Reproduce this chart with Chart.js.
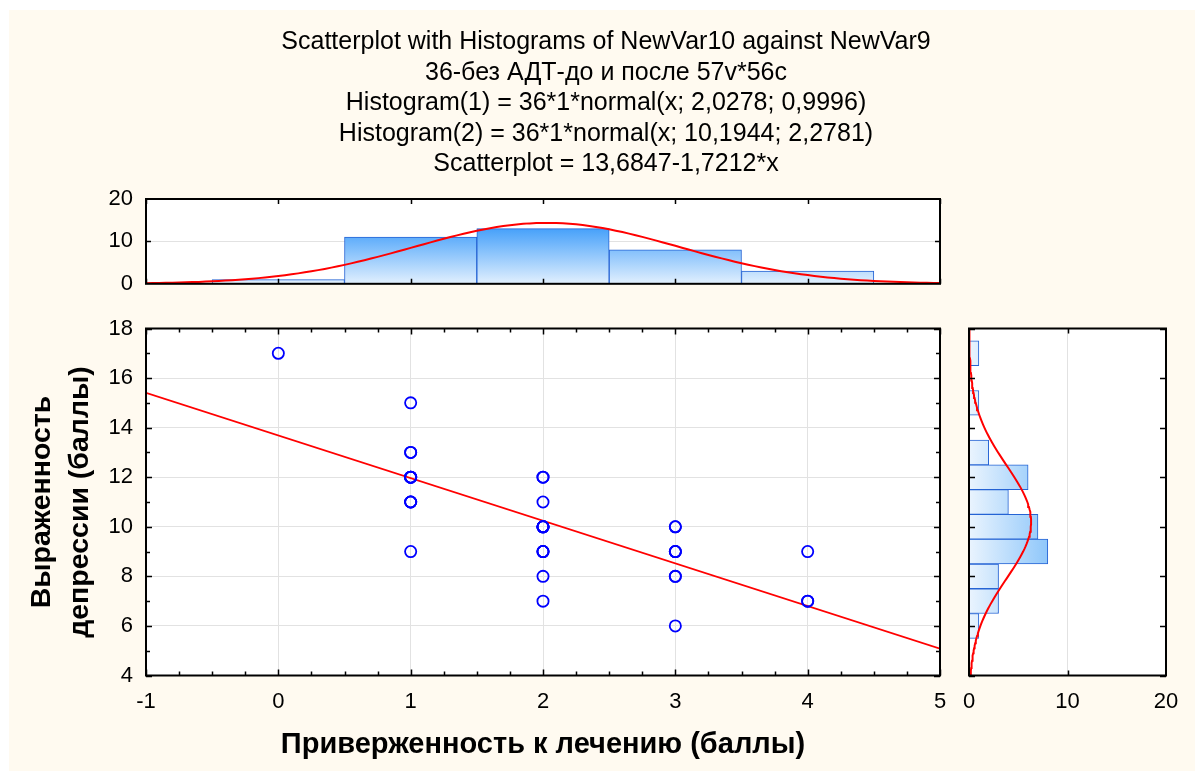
<!DOCTYPE html>
<html>
<head>
<meta charset="utf-8">
<script src="https://cdn.jsdelivr.net/npm/chart.js@4.4.1/dist/chart.umd.min.js"></script>
<style>
  html, body { margin: 0; padding: 0; background: #ffffff; width: 1195px; height: 771px; overflow: hidden; }
  #panel { position: absolute; left: 9px; top: 10px; width: 1186px; height: 761px; background: #fffaf0; }
  canvas { position: absolute; }
  #topHist { left: 0; top: 0; }
  #scatter { left: 0; top: 300px; }
  #sideHist { left: 949px; top: 300px; }
</style>
</head>
<body>
<div id="panel"></div>
<canvas id="topHist" width="1195" height="310"></canvas>
<canvas id="scatter" width="960" height="471"></canvas>
<canvas id="sideHist" width="246" height="471"></canvas>
<script>
// ---- Data -------------------------------------------------------------
// Adherence to treatment (x) and depression score (y) for 36 patients
const ADHERENCE = [
  0,
  1, 1, 1, 1, 1, 1, 1, 1, 1, 1, 1,
  2, 2, 2, 2, 2, 2, 2, 2, 2, 2, 2, 2, 2,
  3, 3, 3, 3, 3, 3, 3, 3,
  4, 4, 4
];
const DEPRESSION = [
  17,
  15, 13, 13, 12, 12, 12, 12, 11, 11, 11, 9,
  12, 12, 11, 10, 10, 10, 10, 10, 9, 9, 9, 8, 7,
  10, 10, 9, 9, 9, 8, 8, 6,
  9, 7, 7
];

// Histogram of adherence (bins of width 1)
const ADH_BINS = [0, 1, 2, 3, 4];
const ADH_COUNTS = [1, 11, 13, 8, 3];

// Histogram of depression score (bins of width 1, empty bins left out)
const DEP_BINS = [6, 7, 8, 9, 10, 11, 12, 13, 15, 17];
const DEP_COUNTS = [1, 3, 3, 8, 7, 4, 6, 2, 1, 1];

// Fitted normal curves and regression line
const N_CASES = 36;
const BIN_WIDTH = 1;
const ADH_MEAN = 2.0278, ADH_SD = 0.9996;
const DEP_MEAN = 10.1944, DEP_SD = 2.2781;
const REG_INTERCEPT = 13.6847, REG_SLOPE = -1.7212;

// Axis ranges and tick labels
const X_RANGE = [-1, 5];
const Y_RANGE = [4, 18];
const COUNT_TICKS = [0, 10, 20];

const TITLE_LINES = [
  'Scatterplot with Histograms of NewVar10 against NewVar9',
  '36-без АДТ-до и после 57v*56c',
  'Histogram(1) = 36*1*normal(x; 2,0278; 0,9996)',
  'Histogram(2) = 36*1*normal(x; 10,1944; 2,2781)',
  'Scatterplot = 13,6847-1,7212*x'
];
const X_TITLE = 'Приверженность к лечению (баллы)';
const Y_TITLE = ['Выраженность', 'депрессии (баллы)'];

// ---- Helpers -----------------------------------------------------------
const FONT = "'Liberation Sans', Arial, Helvetica, sans-serif";
Chart.defaults.font.family = FONT;
Chart.defaults.color = '#000000';

function normalCurve(mean, sd, from, to, step) {
  const pts = [];
  const k = N_CASES * BIN_WIDTH / (sd * Math.sqrt(2 * Math.PI));
  for (let v = from; v <= to + 1e-9; v += step) {
    pts.push({ v, f: k * Math.exp(-((v - mean) ** 2) / (2 * sd * sd)) });
  }
  return pts;
}

function range(from, to, step) {
  const out = [];
  for (let v = from; v <= to + 1e-9; v += step) out.push(Math.round(v * 1000) / 1000);
  return out;
}

// White plot area, black frame and inward tick marks
const framePlugin = {
  id: 'frame',
  beforeDraw(chart) {
    const { ctx, chartArea: a } = chart;
    ctx.save();
    ctx.fillStyle = '#ffffff';
    ctx.fillRect(a.left, a.top, a.right - a.left, a.bottom - a.top);
    ctx.restore();
  },
  afterDatasetsDraw(chart, args, opts) {
    const { ctx, chartArea: a, scales } = chart;
    ctx.save();
    ctx.strokeStyle = '#000000';
    ctx.lineWidth = 1.5;
    ctx.beginPath();
    for (const m of (opts.marks || [])) {
      const s = scales[m.axis];
      for (const v of m.values) {
        const p = Math.round(s.getPixelForValue(v)) + 0.5;
        if (m.axis === 'x') {
          ctx.moveTo(p, a.bottom); ctx.lineTo(p, a.bottom - m.len);
          ctx.moveTo(p, a.top); ctx.lineTo(p, a.top + m.len);
        } else {
          ctx.moveTo(a.left, p); ctx.lineTo(a.left + m.len, p);
          ctx.moveTo(a.right, p); ctx.lineTo(a.right - m.len, p);
        }
      }
    }
    ctx.stroke();
    ctx.lineWidth = 2;
    ctx.strokeRect(a.left, a.top, a.right - a.left, a.bottom - a.top);
    ctx.restore();
  }
};

const GRID = '#e2e2e2';
const BAR_EDGE = '#2563d4';
const RED = '#ff0000';
const tickFont = { family: FONT, size: 22 };

// ---- Top histogram (adherence) -----------------------------------------
const adhCurve = normalCurve(ADH_MEAN, ADH_SD, X_RANGE[0], X_RANGE[1], 0.05);

new Chart(document.getElementById('topHist'), {
  type: 'bar',
  data: {
    datasets: [
      {
        type: 'line',
        data: adhCurve.map(p => ({ x: p.v, y: p.f })),
        borderColor: RED, borderWidth: 2, pointRadius: 0, tension: 0
      },
      {
        type: 'bar',
        data: ADH_BINS.map((b, i) => ({ x: b, y: ADH_COUNTS[i] })),
        barPercentage: 1, categoryPercentage: 1,
        borderColor: BAR_EDGE, borderWidth: 1,
        backgroundColor(c) {
          const ch = c.chart;
          if (!ch.chartArea) return '#9ccbf8';
          const ys = ch.scales.y;
          const g = ch.ctx.createLinearGradient(0, ys.getPixelForValue(Math.max(...ADH_COUNTS)), 0, ys.getPixelForValue(0));
          g.addColorStop(0, '#47a1fa');
          g.addColorStop(1, '#e2f0fe');
          return g;
        }
      }
    ]
  },
  options: {
    responsive: false, animation: false, devicePixelRatio: 1,
    layout: { padding: { left: 17, right: 0, top: 27, bottom: 25 } },
    plugins: {
      legend: { display: false }, tooltip: { enabled: false },
      title: {
        display: true, text: TITLE_LINES, color: '#000000', align: 'center',
        font: { family: FONT, size: 25, weight: 'normal', lineHeight: '30.5px' },
        padding: { top: 0, bottom: 19.5 }
      },
      frame: {
        marks: [
          { axis: 'x', values: range(X_RANGE[0], X_RANGE[1], 1), len: 5 },
          { axis: 'y', values: [10], len: 5 }
        ]
      }
    },
    scales: {
      x: { type: 'linear', display: false, min: X_RANGE[0], max: X_RANGE[1], offset: false, grid: { offset: false } },
      y: {
        type: 'linear', min: COUNT_TICKS[0], max: COUNT_TICKS[COUNT_TICKS.length - 1],
        afterBuildTicks: s => { s.ticks = COUNT_TICKS.map(v => ({ value: v })); },
        ticks: { font: tickFont, padding: 13, color: '#000000' },
        grid: { color: GRID, drawTicks: false, lineWidth: 1 },
        border: { display: false },
        afterFit: s => { s.width = 129; }
      },
      yR: {
        type: 'linear', position: 'right', display: true,
        ticks: { display: false }, grid: { display: false }, border: { display: false },
        afterFit: s => { s.width = 255; }
      }
    }
  },
  plugins: [framePlugin]
});

// ---- Scatterplot with regression line -----------------------------------
new Chart(document.getElementById('scatter'), {
  type: 'scatter',
  data: {
    datasets: [
      {
        type: 'scatter',
        data: ADHERENCE.map((x, i) => ({ x, y: DEPRESSION[i] })),
        pointStyle: 'circle', pointRadius: 5.6, pointBorderWidth: 1.8,
        pointBorderColor: '#0000ff', pointBackgroundColor: 'rgba(0,0,0,0)'
      },
      {
        type: 'line',
        data: X_RANGE.map(x => ({ x, y: REG_INTERCEPT + REG_SLOPE * x })),
        borderColor: RED, borderWidth: 1.8, pointRadius: 0, tension: 0
      }
    ]
  },
  options: {
    responsive: false, animation: false, devicePixelRatio: 1,
    layout: { padding: { left: 0, right: 20, top: 28.5, bottom: 0 } },
    plugins: {
      legend: { display: false }, tooltip: { enabled: false },
      frame: {
        marks: [
          { axis: 'x', values: range(X_RANGE[0], X_RANGE[1], 0.25), len: 4 },
          { axis: 'x', values: range(X_RANGE[0], X_RANGE[1], 1), len: 6 },
          { axis: 'y', values: range(Y_RANGE[0], Y_RANGE[1], 1), len: 4 },
          { axis: 'y', values: range(Y_RANGE[0], Y_RANGE[1], 2), len: 6 }
        ]
      }
    },
    scales: {
      x: {
        type: 'linear', min: X_RANGE[0], max: X_RANGE[1], offset: false,
        ticks: { stepSize: 1, font: tickFont, padding: 13, color: '#000000' },
        grid: { color: GRID, drawTicks: false, offset: false },
        border: { display: false },
        title: {
          display: true, text: X_TITLE, color: '#000000',
          font: { family: FONT, size: 29, weight: 'bold' },
          padding: { top: 0, bottom: 8.5 }
        },
        afterFit: s => { s.height = 95.5; }
      },
      y: {
        type: 'linear', min: Y_RANGE[0], max: Y_RANGE[1],
        ticks: { stepSize: 2, font: tickFont, padding: 13, color: '#000000' },
        grid: { color: GRID, drawTicks: false },
        border: { display: false },
        title: {
          display: true, text: Y_TITLE, color: '#000000',
          font: { family: FONT, size: 28.5, weight: 'bold', lineHeight: '38px' },
          padding: { top: 23, bottom: 0 }
        },
        afterFit: s => { s.width = 146; }
      }
    }
  },
  plugins: [framePlugin]
});

// ---- Side histogram (depression score) ----------------------------------
const depCurve = normalCurve(DEP_MEAN, DEP_SD, Y_RANGE[0], Y_RANGE[1], 0.1);

new Chart(document.getElementById('sideHist'), {
  type: 'bar',
  data: {
    datasets: [
      {
        type: 'line', indexAxis: 'y',
        data: depCurve.map(p => ({ x: p.f, y: p.v })),
        borderColor: RED, borderWidth: 2, pointRadius: 0, tension: 0
      },
      {
        type: 'bar', indexAxis: 'y',
        data: DEP_BINS.map((b, i) => ({ x: DEP_COUNTS[i], y: b })),
        barPercentage: 1, categoryPercentage: 1,
        borderColor: BAR_EDGE, borderWidth: 1,
        backgroundColor(c) {
          const ch = c.chart;
          if (!ch.chartArea) return '#cfe6fc';
          const xs = ch.scales.x;
          const g = ch.ctx.createLinearGradient(xs.getPixelForValue(0), 0, xs.getPixelForValue(Math.max(...DEP_COUNTS)), 0);
          g.addColorStop(0, '#eaf4fe');
          g.addColorStop(1, '#8fc7fa');
          return g;
        }
      }
    ]
  },
  options: {
    responsive: false, animation: false, devicePixelRatio: 1,
    layout: { padding: { left: 20, right: 29, top: 28.5, bottom: 0 } },
    plugins: {
      legend: { display: false }, tooltip: { enabled: false },
      frame: {
        marks: [
          { axis: 'x', values: [10], len: 5 },
          { axis: 'y', values: range(Y_RANGE[0], Y_RANGE[1], 2), len: 6 }
        ]
      }
    },
    scales: {
      x: {
        type: 'linear', min: COUNT_TICKS[0], max: COUNT_TICKS[COUNT_TICKS.length - 1], offset: false,
        afterBuildTicks: s => { s.ticks = COUNT_TICKS.map(v => ({ value: v })); },
        ticks: { font: tickFont, padding: 13, color: '#000000' },
        grid: { color: GRID, drawTicks: false, offset: false },
        border: { display: false },
        afterFit: s => { s.height = 95.5; }
      },
      y: {
        type: 'linear', display: false, min: Y_RANGE[0], max: Y_RANGE[1], offset: false,
        grid: { offset: false }
      }
    }
  },
  plugins: [framePlugin]
});
</script>
</body>
</html>
